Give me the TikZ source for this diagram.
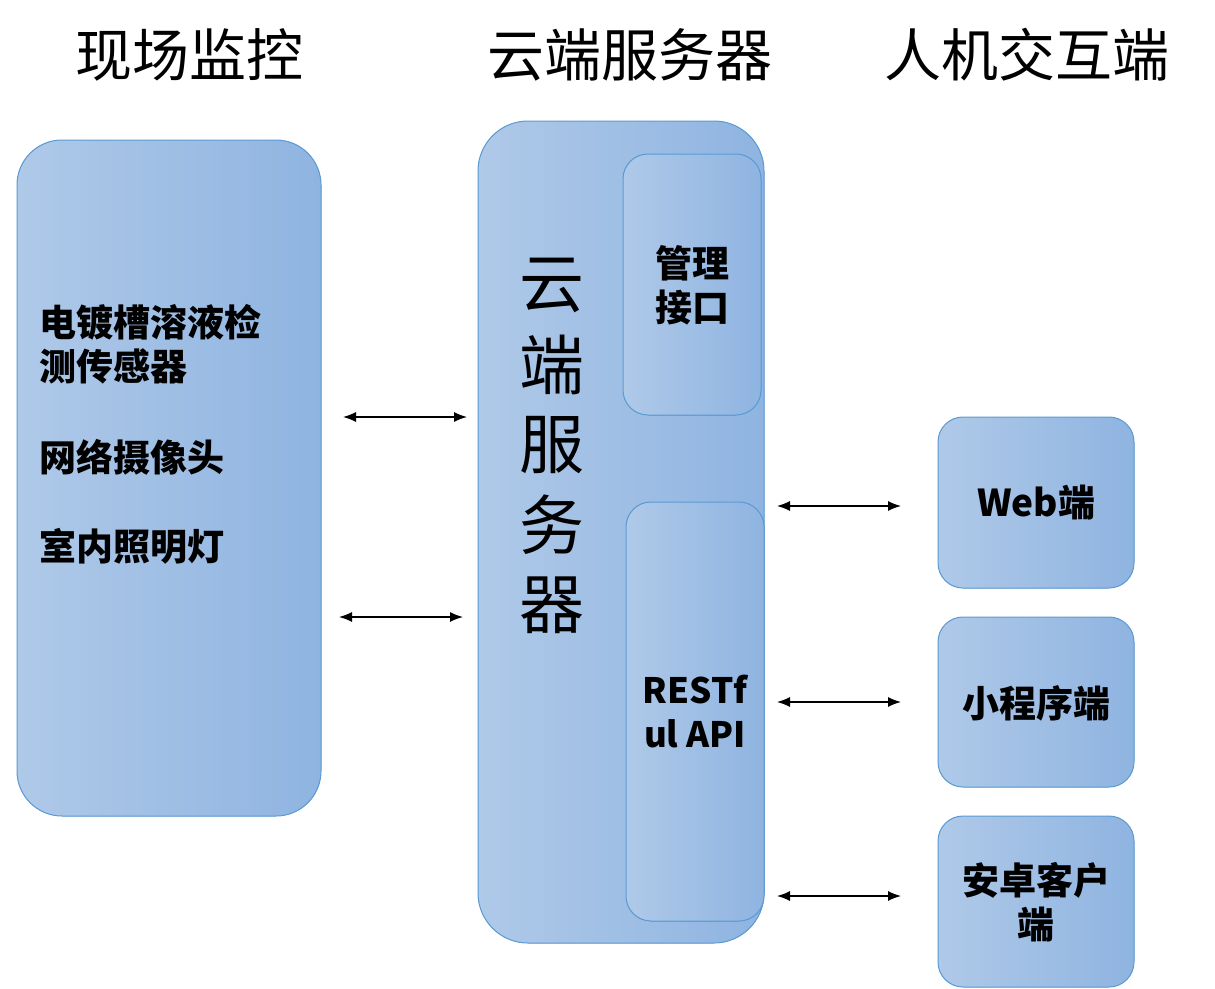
\documentclass[tikz,border=0pt]{standalone}
\usepackage{fontspec}
\setmainfont{Noto Sans CJK SC}
\newfontfamily\cjk{Noto Sans CJK SC}
\usetikzlibrary{arrows.meta}
\definecolor{cl}{HTML}{AFC9E8}
\definecolor{cr}{HTML}{8FB4E1}
\definecolor{bd}{HTML}{5B9BD5}
\begin{document}
\begin{tikzpicture}[x=1pt,y=-1pt,
  panel/.style={draw=bd, line width=1pt, left color=cl, right color=cr},
  ttl/.style={font=\cjk\fontsize{57}{60}\selectfont, anchor=center},
  lbl/.style={font=\cjk\bfseries\fontsize{37}{44}\selectfont, align=center},
  link/.style={{Latex[length=13pt,width=10pt]}-{Latex[length=13pt,width=10pt]}, line width=1.3pt}
]
\useasboundingbox (0,0) rectangle (1215,988);
% boxes
\filldraw[panel, rounded corners=45pt] (17,140) rectangle (321,816);
\filldraw[panel, rounded corners=50pt] (478,121) rectangle (764,943);
\filldraw[panel, rounded corners=25pt] (623,154) rectangle (761,415);
\filldraw[panel, rounded corners=25pt] (626,502) rectangle (764,921);
\filldraw[panel, rounded corners=25pt] (938,417) rectangle (1134,588);
\filldraw[panel, rounded corners=25pt] (938,617) rectangle (1134,787);
\filldraw[panel, rounded corners=25pt] (938,816) rectangle (1134,987);
% titles
\node[ttl] (t1) at (189,55) {现场监控};
\node[ttl] (t2) at (630,55) {云端服务器};
\node[ttl] (t3) at (1027,55) {人机交互端};
% left box text
\node[lbl, align=left, anchor=west] (l1) at (36,344) {电镀槽溶液检\\测传感器};
\node[lbl, anchor=west] (l2) at (36,457) {网络摄像头};
\node[lbl, anchor=west] (l3) at (36,546) {室内照明灯};
% server vertical text
\foreach \c [count=\i] in {云,端,服,务,器} {
  \node[font=\cjk\fontsize{65}{65}\selectfont] (s\i) at (552,205+\i*80) {\c};
}
\node[lbl] (mg) at (692,285) {管理\\接口};
\node[lbl, font=\cjk\bfseries\fontsize{35}{44}\selectfont] (api) at (695,712) {RESTf\\ul API};
\node[lbl] (web) at (1036,503) {Web端};
\node[lbl] (mini) at (1036,703) {小程序端};
\node[lbl] (and) at (1036,902) {安卓客户\\端};
% arrows
\coordinate (a1) at (343,417); \coordinate (b1) at (467,417);
\coordinate (a2) at (339,617); \coordinate (b2) at (463,617);
\coordinate (a3) at (777,506); \coordinate (b3) at (901,506);
\coordinate (a4) at (777,702); \coordinate (b4) at (901,702);
\coordinate (a5) at (777,896); \coordinate (b5) at (901,896);
\foreach \k in {1,...,5} { \draw[link] (a\k) -- (b\k); }
\end{tikzpicture}
\end{document}
